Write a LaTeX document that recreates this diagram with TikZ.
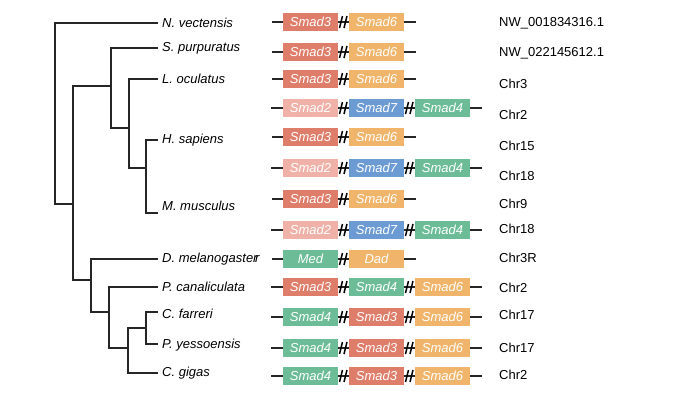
\documentclass[tikz,border=0pt]{standalone}
\usepackage{fontspec}
\setmainfont{Liberation Sans}
\usetikzlibrary{positioning}
\definecolor{sred}{HTML}{DF7D6B}
\definecolor{sorange}{HTML}{F0B46A}
\definecolor{spink}{HTML}{F0B2A8}
\definecolor{sblue}{HTML}{6C9BD4}
\definecolor{sgreen}{HTML}{6CBD97}
\tikzset{
  sbranch/.style={black!85, line width=1.1pt},
  saxis/.style={black!85, line width=1.1pt},
  sgene/.style={minimum width=55pt, minimum height=18pt, inner sep=0pt,
                text=white, font=\fontsize{13}{15}\selectfont\itshape},
  sname/.style={anchor=west, inner sep=4pt, font=\fontsize{13}{15}\selectfont\itshape},
  schr/.style={anchor=west, inner sep=2pt, font=\fontsize{13}{15}\selectfont},
  sbreak/.pic={\draw[black, line width=1.5pt] (-4,6) -- (-1,-6) (0.5,6) -- (3.5,-6);},
}

\begin{document}
\begin{tikzpicture}[x=1pt, y=-1pt]

  \useasboundingbox (0,0) rectangle (674,397);

  % especies
  \node[sname] (nve) at (158,23)  {N. vectensis};
  \node[sname] (spu) at (158,48)  {S. purpuratus};
  \node[sname] (loc) at (158,79)  {L. oculatus};
  \node[sname] (hsa) at (158,140) {H. sapiens};
  \node[sname] (mmu) at (158,206) {M. musculus};
  \node[sname] (dme) at (158,259) {D. melanogaster\kern-2.5pt r};
  \node[sname] (pca) at (158,287) {P. canaliculata};
  \node[sname] (cfa) at (158,314) {C. farreri};
  \node[sname] (pye) at (158,345) {P. yessoensis};
  \node[sname] (cgi) at (158,373) {C. gigas};

  % nos internos
  \coordinate (rt) at (55,204);
  \coordinate (cA) at (73,204);
  \coordinate (cB) at (111,86);
  \coordinate (cC) at (129,128);
  \coordinate (cD) at (146,168);
  \coordinate (cE) at (91,280);
  \coordinate (cF) at (109,312);
  \coordinate (cG) at (128,348);
  \coordinate (cH) at (146,328);

  % arvore
  \draw[sbranch] (nve.west) -| (rt) -- (cA);
  \draw[sbranch] (cB) -| (cA) |- (cE);
  \draw[sbranch] (spu.west) -| (cB) |- (cC);
  \draw[sbranch] (loc.west) -| (cC) |- (cD);
  \draw[sbranch] (hsa.west) -| (cD) |- ([yshift=-7pt]mmu.west);
  \draw[sbranch] (dme.west) -| (cE) |- (cF);
  \draw[sbranch] (pca.west) -| (cF) |- (cG);
  \draw[sbranch] (cH) -| (cG) |- (cgi.west);
  \draw[sbranch] ([yshift=2pt]cfa.west) -| (cH) |- ([yshift=1pt]pye.west);

  % blocos de dois genes
  \foreach \n/\y/\ga/\ca/\gb/\cb in {1/22/Smad3/sred/Smad6/sorange,
      2/52/Smad3/sred/Smad6/sorange, 3/79/Smad3/sred/Smad6/sorange,
      5/137/Smad3/sred/Smad6/sorange, 7/199/Smad3/sred/Smad6/sorange,
      9/259/Med/sgreen/Dad/sorange} {
    \coordinate (r\n s) at (272,\y);
    \coordinate (r\n e) at (416,\y);
    \draw[saxis] (r\n s) -- (r\n e);
    \node[sgene, fill=\ca] (g\n a) at (310.5,\y) {\ga};
    \node[sgene, fill=\cb] (g\n b) at (376.5,\y) {\gb};
    \pic at (343.5,\y) {sbreak};
  }

  % blocos de tres genes
  \foreach \n/\y/\ga/\ca/\gb/\cb/\gc/\cc in {4/108/Smad2/spink/Smad7/sblue/Smad4/sgreen,
      6/168/Smad2/spink/Smad7/sblue/Smad4/sgreen,
      8/230/Smad2/spink/Smad7/sblue/Smad4/sgreen,
      10/287/Smad3/sred/Smad4/sgreen/Smad6/sorange,
      11/317/Smad4/sgreen/Smad3/sred/Smad6/sorange,
      12/348/Smad4/sgreen/Smad3/sred/Smad6/sorange,
      13/376/Smad4/sgreen/Smad3/sred/Smad6/sorange} {
    \coordinate (r\n s) at (271,\y);
    \coordinate (r\n e) at (482,\y);
    \draw[saxis] (r\n s) -- (r\n e);
    \node[sgene, fill=\ca] (g\n a) at (310.5,\y) {\ga};
    \node[sgene, fill=\cb] (g\n b) at (376.5,\y) {\gb};
    \node[sgene, fill=\cc] (g\n c) at (442.5,\y) {\gc};
    \pic at (343.5,\y) {sbreak};
    \pic at (409.5,\y) {sbreak};
  }

  % cromossomos
  \foreach \n/\y/\t in {1/23/NW\_001834316.1, 2/53/NW\_022145612.1, 3/84/Chr3,
      4/115/Chr2, 5/146/Chr15, 6/176/Chr18, 7/204/Chr9, 8/229/Chr18,
      9/258/Chr3R, 10/288/Chr2, 11/315/Chr17, 12/348/Chr17, 13/375/Chr2}
    \node[schr] (c\n) at (497,\y) {\t};

\end{tikzpicture}
\end{document}
